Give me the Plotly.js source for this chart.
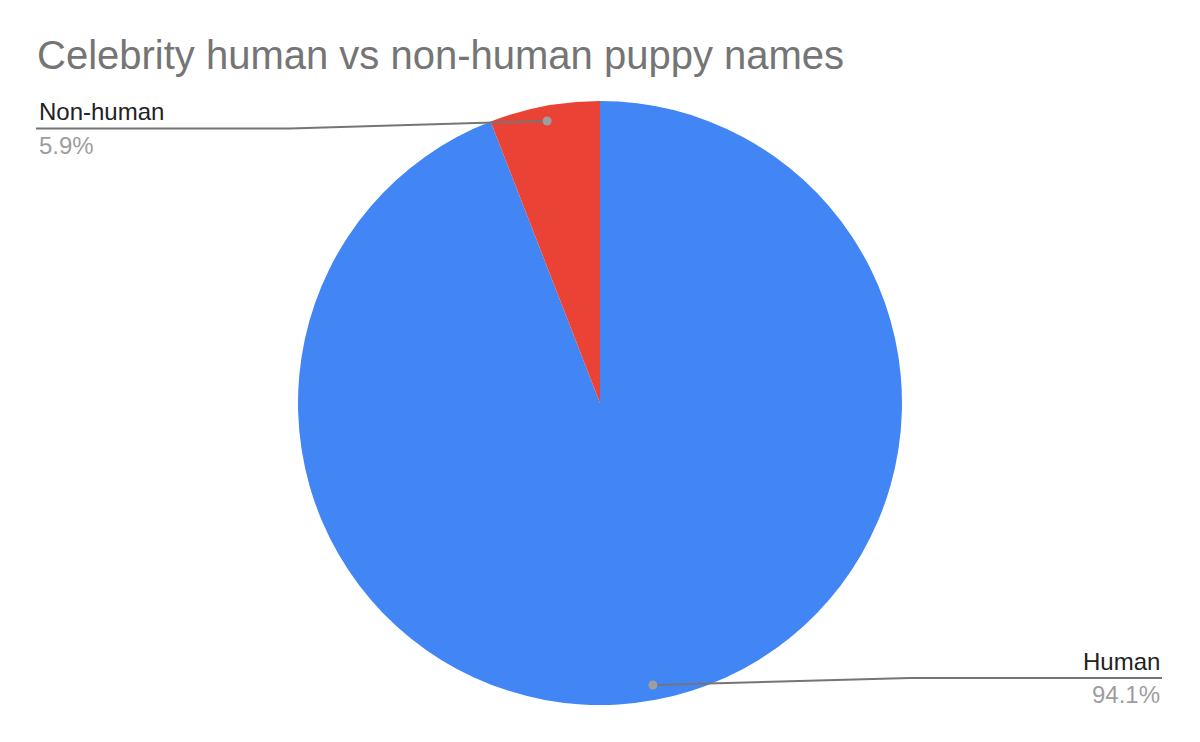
<!DOCTYPE html>
<html>
<head>
<meta charset="utf-8">
<script src="https://cdn.plot.ly/plotly-3.0.1.min.js"></script>
<style>
  html, body { margin: 0; padding: 0; background: #fff; }
  #chart { width: 1200px; height: 742px; }
</style>
</head>
<body>
<div id="chart"></div>
<script>
const W = 1200;
const H = 742;

const sliceLabels = ["Human", "Non-human"];
const sliceValues = [94.1, 5.9];
const sliceColors = ["#4285f4", "#ea4335"];

// pie placement in pixels
const CX = 600, CY = 403, R = 302;
const FONT = "Arial, 'Liberation Sans', sans-serif";

const px = (x) => x / W;
const py = (y) => 1 - y / H;

// where each slice's leader line starts, taken from the slice's middle angle
const total = sliceValues.reduce((a, b) => a + b, 0);
let acc = 0;
const dots = sliceValues.map((v) => {
  const mid = ((acc + v / 2) / total) * 2 * Math.PI;
  acc += v;
  return [CX + 0.95 * R * Math.sin(mid), CY - 0.95 * R * Math.cos(mid)];
});

const shapes = [];
const annotations = [];

dots.forEach(([dx, dy], i) => {
  const left = dx < CX;
  const lineY = left ? 128.5 : 678;
  const elbowX = left ? 290 : 910;
  const endX = left ? 36 : 1162;

  shapes.push(
    { type: "line", xref: "paper", yref: "paper", x0: px(dx), y0: py(dy), x1: px(elbowX), y1: py(lineY), line: { color: "#757575", width: 2 } },
    { type: "line", xref: "paper", yref: "paper", x0: px(elbowX), y0: py(lineY), x1: px(endX), y1: py(lineY), line: { color: "#757575", width: 2 } },
    { type: "circle", xref: "paper", yref: "paper", x0: px(dx - 4.5), y0: py(dy - 4.5), x1: px(dx + 4.5), y1: py(dy + 4.5), fillcolor: "#9e9e9e", line: { width: 0 } }
  );

  annotations.push(
    {
      xref: "paper", yref: "paper", x: px(endX + (left ? 1 : 0)), y: py(lineY - 1), xanchor: left ? "left" : "right", yanchor: "bottom",
      text: sliceLabels[i], showarrow: false, font: { family: FONT, size: 24, color: "#222222" }
    },
    {
      xref: "paper", yref: "paper", x: px(endX + (left ? 1 : 0)), y: py(lineY + 1), xanchor: left ? "left" : "right", yanchor: "top",
      text: ((sliceValues[i] / total) * 100).toFixed(1) + "%", showarrow: false, font: { family: FONT, size: 24, color: "#9e9e9e" }
    }
  );
});

Plotly.newPlot(
  "chart",
  [
    {
      type: "pie",
      labels: sliceLabels,
      values: sliceValues,
      sort: false,
      direction: "clockwise",
      rotation: 0,
      marker: { colors: sliceColors, line: { color: "#ffffff", width: 0 } },
      textinfo: "none",
      hoverinfo: "label+percent",
      domain: { x: [px(CX - R), px(CX + R)], y: [py(CY + R), py(CY - R)] },
    },
  ],
  {
    width: W,
    height: H,
    margin: { l: 0, r: 0, t: 0, b: 0 },
    paper_bgcolor: "#ffffff",
    showlegend: false,
    title: {
      text: "Celebrity human vs non-human puppy names",
      x: px(37),
      xref: "paper",
      xanchor: "left",
      y: py(55),
      yanchor: "middle",
      font: { family: FONT, size: 40, color: "#757575" },
    },
    shapes,
    annotations,
  },
  { displayModeBar: false }
);
</script>
</body>
</html>
